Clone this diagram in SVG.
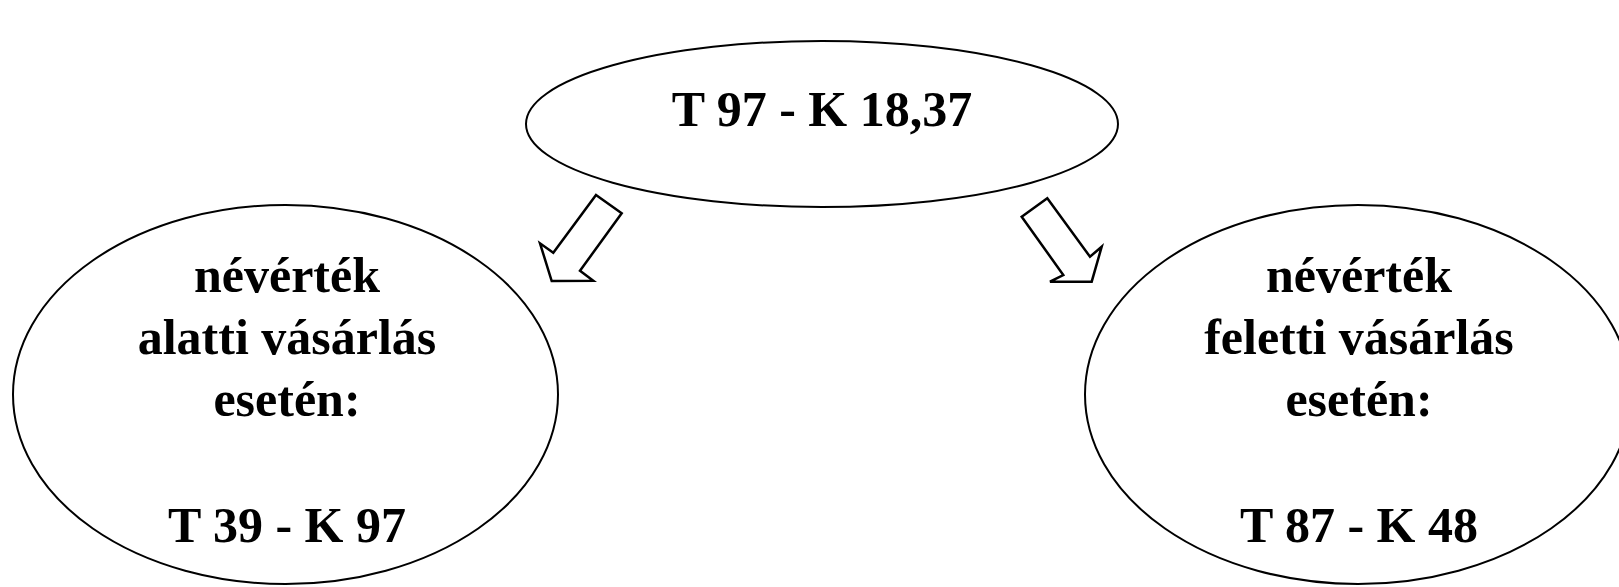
<svg xmlns="http://www.w3.org/2000/svg" width="1619" height="587" viewBox="0 0 1619 587">
<style>
.node ellipse{fill:#fff;stroke:#000;stroke-width:2}
.node text{font-family:"Liberation Serif","Times New Roman",serif;font-weight:bold;font-size:50px;fill:#000;text-anchor:middle}
.arrow{fill:#fff;stroke:#000;stroke-width:2.5;stroke-linejoin:miter}
</style>
<rect width="1619" height="587" fill="#fff"/>
<g id="top">
<g class="node">
<ellipse cx="822" cy="124" rx="296" ry="83"/>
<text x="822" y="126">T 97 - K 18,37</text>
</g>
</g>
<g id="left">
<g class="node">
<ellipse cx="285.5" cy="394.5" rx="272.5" ry="189.5"/>
<text x="287" y="292">névérték</text>
<text x="287" y="354">alatti vásárlás</text>
<text x="287" y="416">esetén:</text>
<text x="287" y="542">T 39 - K 97</text>
</g>
</g>
<g id="right">
<g class="node">
<ellipse cx="1358" cy="394.5" rx="273" ry="189.5"/>
<text x="1359" y="292">névérték</text>
<text x="1359" y="354">feletti vásárlás</text>
<text x="1359" y="416">esetén:</text>
<text x="1359" y="542">T 87 - K 48</text>
</g>
</g>
<g id="connectors">
<polygon class="arrow" points="596,195 621.7,213.3 580,270.7 593.3,280.7 551.7,281 540,243.3 553.3,252.7"/>
<polygon class="arrow" points="1021.7,216.7 1047.3,198.3 1090,256.7 1101.7,246.7 1091.7,281.7 1050,281.7 1063.3,275"/>
</g>
</svg>
